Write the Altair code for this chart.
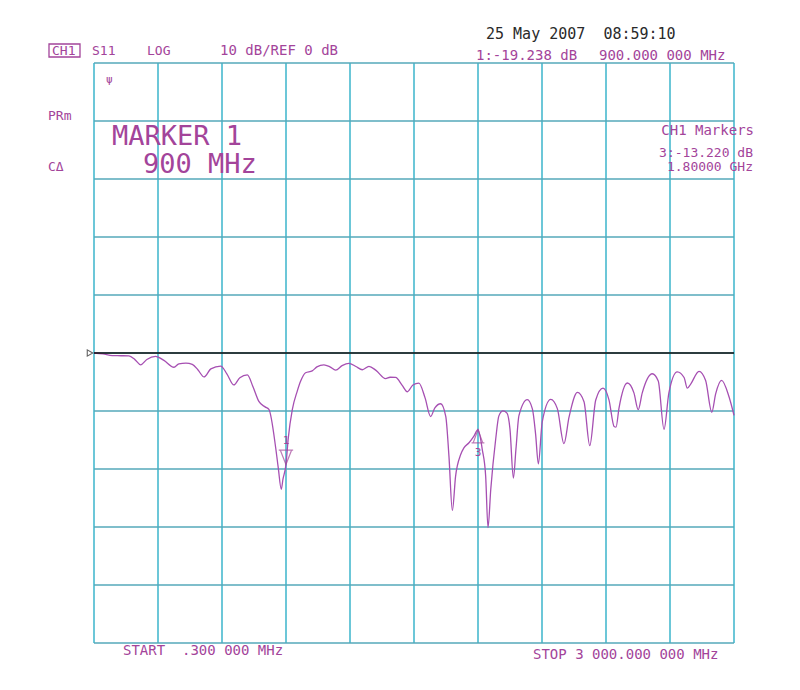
import altair as alt
import pandas as pd

# ---------------- data read from the analyzer print ----------------
freq_mhz = [0.3, 42, 86, 127, 164, 192, 219, 248, 289, 328,
            375, 398, 431, 461, 488, 516, 548, 594, 623, 656,
            684, 719, 745, 773, 802, 820, 852, 864, 878, 886,
            900, 911, 930, 953, 969, 992, 1023, 1045, 1078, 1106,
            1133, 1163, 1195, 1228, 1258, 1289, 1322, 1367, 1388, 1414,
            1444, 1469, 1495, 1523, 1552, 1578, 1598, 1625, 1649, 1664,
            1680, 1695, 1719, 1734, 1758, 1781, 1800, 1820, 1836, 1847,
            1860, 1883, 1898, 1917, 1936, 1950, 1966, 1978, 1992, 2031,
            2055, 2070, 2083, 2101, 2141, 2172, 2203, 2227, 2266, 2297,
            2324, 2352, 2386, 2414, 2438, 2447, 2461, 2500, 2531, 2551,
            2570, 2617, 2645, 2672, 2695, 2734, 2766, 2781, 2797, 2836,
            2867, 2896, 2914, 2942, 2977, 3000]
s11_db = [0.0, -0.16, -0.44, -0.47, -0.51, -1.14, -2.04, -1.12, -0.59, -1.27,
          -2.46, -1.88, -1.75, -1.96, -2.93, -4.13, -2.74, -2.26, -3.58, -5.51,
          -4.25, -3.77, -5.78, -8.35, -9.29, -9.72, -16.38, -19.82, -23.49, -21.76,
          -19.24, -14.63, -9.73, -6.57, -4.84, -3.40, -3.09, -2.40, -2.04, -2.38,
          -2.94, -2.18, -1.78, -2.33, -2.89, -2.31, -2.99, -4.41, -4.18, -4.22,
          -5.53, -6.68, -5.52, -5.21, -7.74, -10.95, -9.45, -8.75, -10.93, -17.82,
          -27.18, -21.26, -17.51, -16.35, -15.48, -14.33, -13.22, -16.61, -21.21, -30.10,
          -23.49, -14.87, -10.84, -9.98, -10.36, -13.12, -21.56, -16.56, -10.81, -8.04,
          -9.64, -13.94, -19.11, -11.91, -8.00, -9.59, -15.62, -11.01, -6.80, -8.40,
          -15.97, -8.10, -6.07, -8.08, -12.66, -12.78, -9.49, -5.17, -6.88, -9.76,
          -6.87, -3.58, -4.83, -13.16, -6.83, -3.24, -4.22, -6.06, -5.36, -3.16,
          -4.75, -10.21, -7.04, -4.72, -7.59, -10.74]

ref_level_db = [0]
marker1_freq = [900]
marker1_db = [-19.238]
marker3_freq = [1800]
marker3_db = [-13.220]

x_grid_mhz = [0.3, 300.27, 600.24, 900.21, 1200.18, 1500.15, 1800.12,
              2100.09, 2400.06, 2700.03, 3000]
y_grid_db = [-50, -40, -30, -20, -10, 0, 10, 20, 30, 40, 50]

NB = "\u00a0"
hdr_box = "CH1"
hdr_param = "S11"
hdr_format = "LOG"
hdr_scale = "10 dB/REF 0 dB"
hdr_date = "25 May 2007" + NB + NB + "08:59:10"
hdr_m1_val = "1:-19.238 dB"
hdr_m1_freq = "900.000 000 MHz"
side_prm = "PRm"
side_ca = "C\u0394"
big_line1 = "MARKER 1"
big_line2 = "900 MHz"
mk_title = "CH1 Markers"
mk_val = "3:-13.220 dB"
mk_freq = "1.80000 GHz"
start_txt = "START" + NB + NB + ".300 000 MHz"
stop_txt = "STOP 3 000.000 000 MHz"

# ---------------- styling ----------------
TRACE = "#a64fb2"
TEXT = "#a3449a"
GRID_V = "#3bb4cb"
GRID_H = "#55a8ba"
MONO = "DejaVu Sans Mono"

x_scale = alt.Scale(domain=[0.3, 3000], nice=False, zero=False)
y_scale = alt.Scale(domain=[-50, 50], nice=False, zero=False)

grid_v = alt.Chart(pd.DataFrame({"g": x_grid_mhz})).mark_rule(
    color=GRID_V, strokeWidth=1.5
).encode(x=alt.X("g:Q", scale=x_scale, axis=None))
grid_h = alt.Chart(pd.DataFrame({"g": y_grid_db})).mark_rule(
    color=GRID_H, strokeWidth=1.5
).encode(y=alt.Y("g:Q", scale=y_scale, axis=None))

trace_df = pd.DataFrame({"freq": freq_mhz, "db": s11_db})
trace = alt.Chart(trace_df).mark_line(
    color=TRACE, strokeWidth=1.3, interpolate="monotone"
).encode(
    x=alt.X("freq:Q", scale=x_scale, axis=None),
    y=alt.Y("db:Q", scale=y_scale, axis=None),
)

ref = alt.Chart(pd.DataFrame({"level": ref_level_db})).mark_rule(
    color="#111111", strokeWidth=1.6
).encode(y=alt.Y("level:Q", scale=y_scale, axis=None))

ref_tri = alt.Chart(pd.DataFrame({"level": ref_level_db})).mark_point(
    shape="triangle-right", filled=False, color="#222222", size=40, strokeWidth=1.1
).encode(x=alt.value(-4), y=alt.Y("level:Q", scale=y_scale, axis=None))

m1_df = pd.DataFrame({"freq": marker1_freq, "db": marker1_db})
m3_df = pd.DataFrame({"freq": marker3_freq, "db": marker3_db})

m1_sym = alt.Chart(m1_df).mark_point(
    shape="M -1.8 -3.6 L 1.8 -3.6 M -1.4 -3.6 L 0 0 L 1.4 -3.6",
    filled=False, color=TEXT, size=64, strokeWidth=1.2
).encode(x=alt.X("freq:Q", scale=x_scale, axis=None),
         y=alt.Y("db:Q", scale=y_scale, axis=None))
m1_lab = alt.Chart(m1_df).mark_text(
    text="1", font=MONO, fontSize=11, color=TEXT, dy=-21, baseline="alphabetic"
).encode(x=alt.X("freq:Q", scale=x_scale, axis=None),
         y=alt.Y("db:Q", scale=y_scale, axis=None))

m3_sym = alt.Chart(m3_df).mark_point(
    shape="M 0 0 L 1.2 3.3 L -1.2 3.3 Z M -1.6 3.3 L 1.6 3.3",
    filled=False, color=TEXT, size=64, strokeWidth=1.2
).encode(x=alt.X("freq:Q", scale=x_scale, axis=None),
         y=alt.Y("db:Q", scale=y_scale, axis=None))
m3_lab = alt.Chart(m3_df).mark_text(
    text="3", font=MONO, fontSize=11, color=TEXT, dy=26, baseline="alphabetic"
).encode(x=alt.X("freq:Q", scale=x_scale, axis=None),
         y=alt.Y("db:Q", scale=y_scale, axis=None))


def label(text, x, y, size=14, color=TEXT, align="left", font=MONO):
    return alt.Chart(alt.Data(values=[{}])).mark_text(
        text=text, align=align, baseline="alphabetic", fontSize=size,
        font=font, color=color
    ).encode(x=alt.value(x), y=alt.value(y))


box = alt.Chart(alt.Data(values=[{}])).mark_rect(
    fillOpacity=0, stroke=TEXT, strokeWidth=1.3
).encode(x=alt.value(-45), x2=alt.value(-14), y=alt.value(-19), y2=alt.value(-6))

labels = [
    label(hdr_box, -42, -8, 13),
    label(hdr_param, -2, -8, 13),
    label(hdr_format, 53, -8, 13),
    label(hdr_scale, 126, -8, 14),
    label(hdr_date, 392, -24, 15, color="#2a2a2a"),
    label(hdr_m1_val, 382, -3, 14),
    label(hdr_m1_freq, 505, -3, 14),
    label(side_prm, -46, 57, 13),
    label(side_ca, -46, 108, 13),
    label("\u03c8", 12, 20, 11),
    label(big_line1, 18, 82, 27),
    label(big_line2, 49, 110, 27),
    label(mk_title, 660, 72, 14, align="right"),
    label(mk_val, 659, 94, 13, align="right"),
    label(mk_freq, 659, 108, 13, align="right"),
    label(start_txt, 29, 592, 14),
    label(stop_txt, 439, 596, 14),
]

chart = alt.layer(
    grid_v, grid_h, trace, ref, ref_tri, m1_sym, m1_lab, m3_sym, m3_lab, box, *labels
).properties(
    width=640, height=580,
    autosize=alt.AutoSizeParams(type="none"),
    padding={"left": 86, "top": 55, "right": 58, "bottom": 39},
    background="white",
).configure_view(strokeWidth=0)

chart.save("out.html", embed_options={"renderer": "svg", "actions": False})
